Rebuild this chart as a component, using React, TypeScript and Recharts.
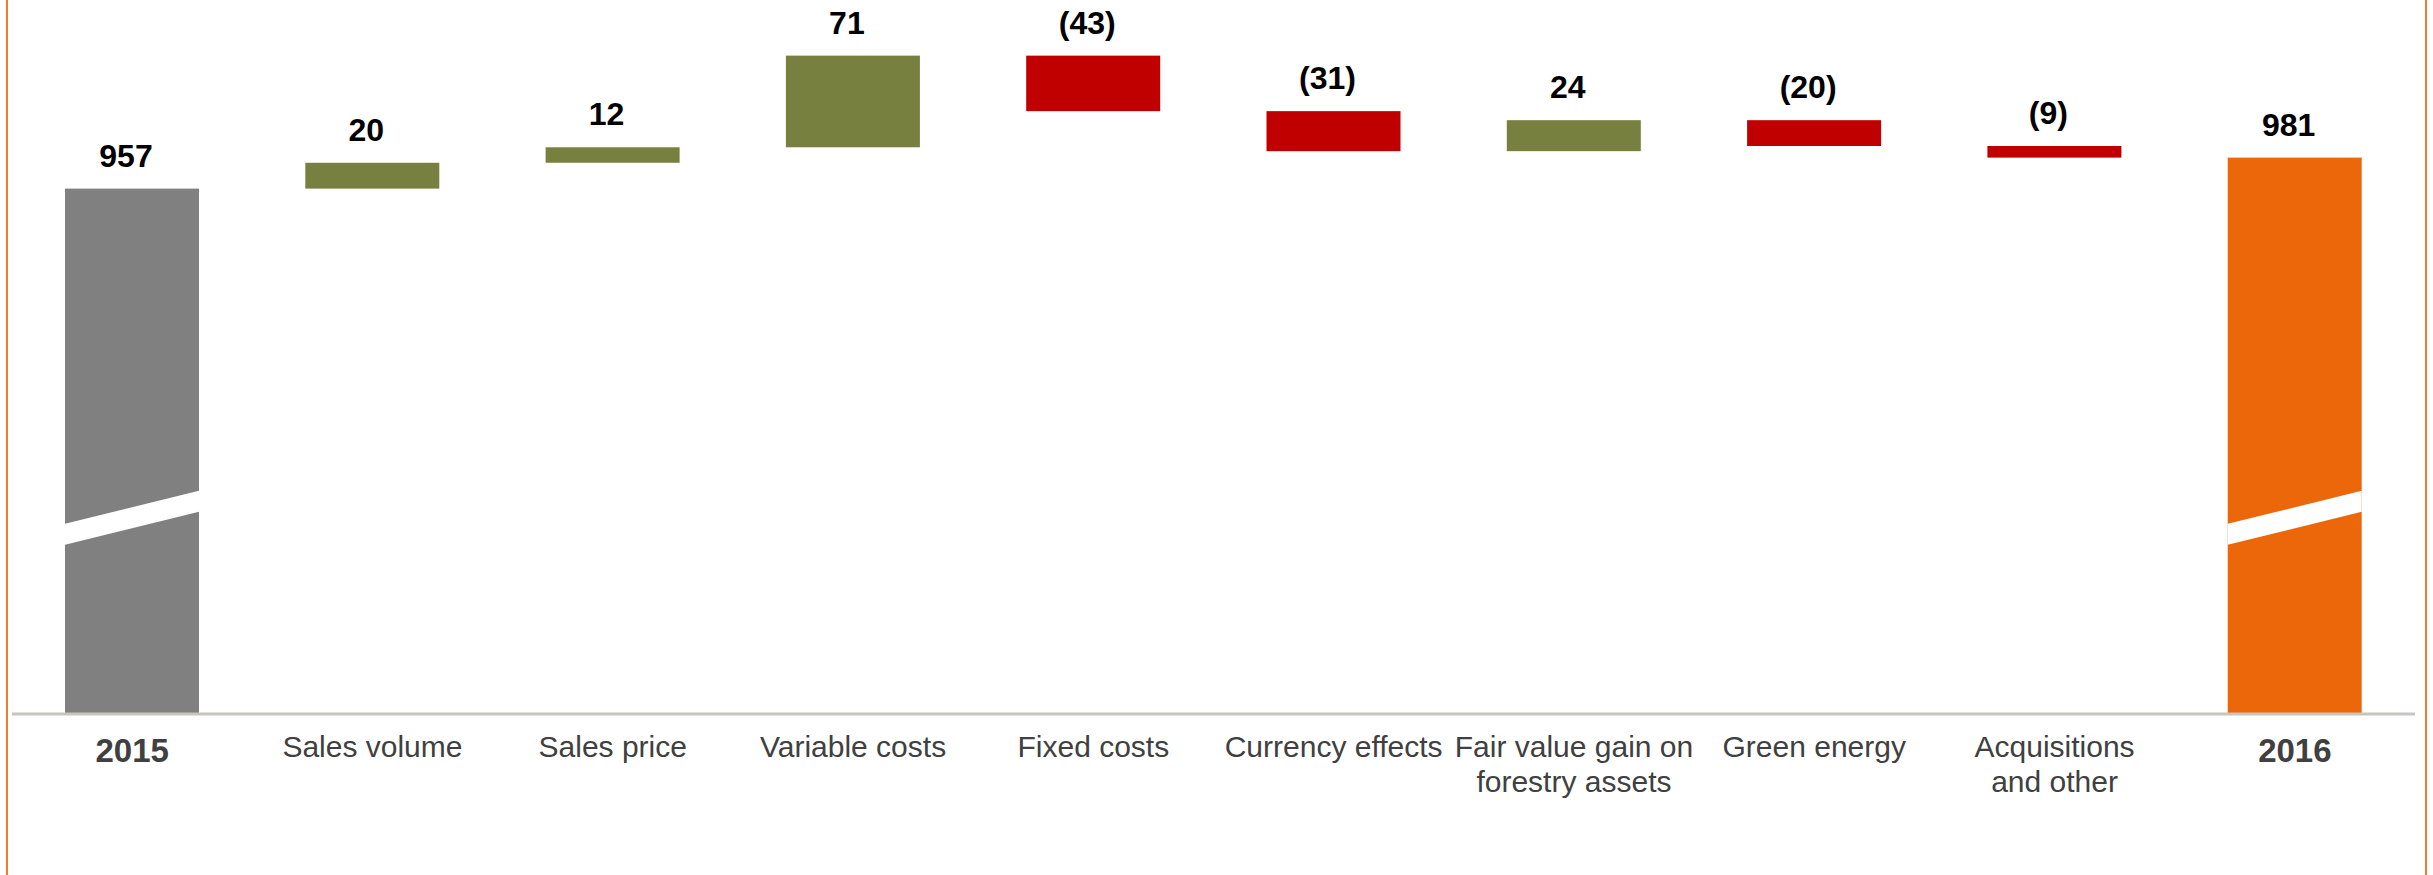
import React from 'react';
import { BarChart, Bar, XAxis, YAxis, LabelList } from 'recharts';

// categories and bridge values (EUR m)
const categories = [
	'2015',
	'Sales volume',
	'Sales price',
	'Variable costs',
	'Fixed costs',
	'Currency effects',
	'Fair value gain on\nforestry assets',
	'Green energy',
	'Acquisitions\nand other',
	'2016',
];
const openingTotal = 957;
const closingTotal = 981;
const changes = [20, 12, 71, -43, -31, 24, -20, -9];

// y axis is broken, the white slash sits at this value
const breakValue = 702;
const yDomain = [550, 1100];

const colors: Record<string, string> = {
	start: '#808080',
	end: '#EB670A',
	up: '#788040',
	down: '#C00000',
};

const fontFamily = '"Liberation Sans", Arial, sans-serif';

const buildRows = () => {
	const rows: any[] = [
		{
			name: categories[0],
			range: [0, openingTotal],
			kind: 'start',
			label: `${openingTotal}`,
		},
	];
	let running = openingTotal;
	changes.forEach((c, i) => {
		const next = running + c;
		rows.push({
			name: categories[i + 1],
			range: [Math.min(running, next), Math.max(running, next)],
			kind: c >= 0 ? 'up' : 'down',
			label: c >= 0 ? `${c}` : `(${-c})`,
		});
		running = next;
	});
	rows.push({
		name: categories[categories.length - 1],
		range: [0, closingTotal],
		kind: 'end',
		label: `${closingTotal}`,
	});
	return rows;
};

const data = buildRows();

const BridgeBar = (props: any) => {
	const { x, y, width, height, payload } = props;
	const fill = colors[payload.kind];
	const isTotal = payload.kind === 'start' || payload.kind === 'end';
	if (!isTotal) {
		return <rect x={x} y={y} width={width} height={height} fill={fill} />;
	}
	const [low, high] = payload.range;
	const breakY = y + ((high - breakValue) * height) / (high - low);
	const rise = width * 0.123;
	const half = 10.5;
	const pts = [
		[x, breakY + rise - half],
		[x + width, breakY - rise - half],
		[x + width, breakY - rise + half],
		[x, breakY + rise + half],
	]
		.map((p) => p.join(','))
		.join(' ');
	return (
		<g>
			<rect x={x} y={y} width={width} height={height} fill={fill} />
			<polygon points={pts} fill='#FFFFFF' />
		</g>
	);
};

const ValueLabel = (props: any) => {
	const { x, y, width, value } = props;
	return (
		<text
			x={x + width / 2 - 6}
			y={y - 22}
			textAnchor='middle'
			fontFamily={fontFamily}
			fontWeight='bold'
			fontSize={32}
			fill='#000000'
		>
			{value}
		</text>
	);
};

const CategoryTick = (props: any) => {
	const { x, y, payload, index } = props;
	const isYear = index === 0 || index === categories.length - 1;
	const lines = String(payload.value).split('\n');
	return (
		<text
			x={x}
			y={y}
			textAnchor='middle'
			fontFamily={fontFamily}
			fontWeight={isYear ? 'bold' : 'normal'}
			fontSize={isYear ? 33 : 30}
			fill='#404040'
		>
			{lines.map((line, i) => (
				<tspan key={i} x={x} dy={i === 0 ? (isYear ? 48 : 43) : 35}>
					{line}
				</tspan>
			))}
		</text>
	);
};

export default function App() {
	return (
		<div
			style={{
				position: 'absolute',
				left: 0,
				top: 0,
				width: 2433,
				height: 875,
				background: '#FFFFFF',
			}}
		>
			<div
				style={{
					position: 'absolute',
					left: 6,
					top: 0,
					width: 2,
					height: 875,
					background: '#ED7D31',
				}}
			/>
			<div
				style={{
					position: 'absolute',
					left: 2425,
					top: 0,
					width: 2,
					height: 875,
					background: '#ED7D31',
				}}
			/>
			<BarChart
				width={2433}
				height={875}
				data={data}
				margin={{ top: 4, right: 18, bottom: 60, left: 12 }}
				barSize={134}
			>
				<XAxis
					dataKey='name'
					height={101}
					interval={0}
					tickLine={false}
					tickSize={0}
					tickMargin={0}
					axisLine={{ stroke: '#C8C4BF', strokeWidth: 3 }}
					tick={<CategoryTick />}
				/>
				<YAxis hide domain={yDomain} allowDataOverflow />
				<Bar dataKey='range' shape={<BridgeBar />} isAnimationActive={false}>
					<LabelList dataKey='label' content={<ValueLabel />} />
				</Bar>
			</BarChart>
		</div>
	);
}
